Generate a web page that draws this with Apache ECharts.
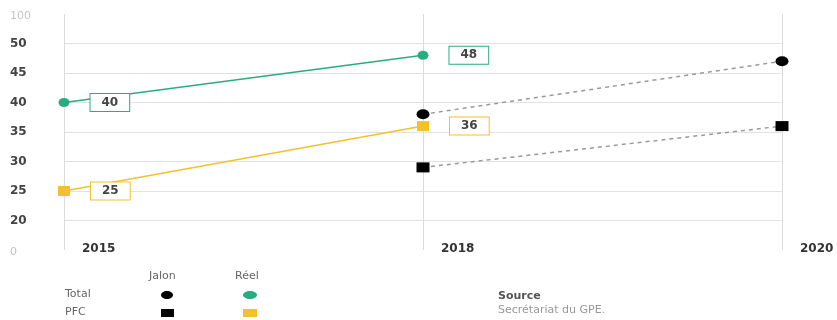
<!DOCTYPE html>
<html>
<head>
<meta charset="utf-8">
<script src="https://cdn.jsdelivr.net/npm/echarts@6/dist/echarts.min.js"></script>
<style>
  html, body { margin: 0; padding: 0; background: #fff; }
  #chart { width: 837px; height: 320px; }
</style>
</head>
<body>
<div id="chart"></div>
<script>
// Years on the horizontal axis
const years = ['2015', '2018', '2020'];

// Achieved values (Réel)
const totalReel = [40, 48, null];
const pfcReel = [25, 36, null];

// Milestones (Jalon)
const totalJalon = [null, 38, 47];
const pfcJalon = [null, 29, 36];

// Broken scale: the bottom and top ticks stand for 0 and 100
const axisBreakLabels = { 15: '0', 55: '100' };

const GREEN = '#2aac82';
const YELLOW = '#f3c12b';
const FONT = '"DejaVu Sans", sans-serif';

const boxLabel = (color) => ({
  show: true,
  position: 'right',
  distance: 21,
  backgroundColor: '#fff',
  borderColor: color,
  borderWidth: 1,
  padding: [3, 11, 2, 11],
  color: '#444',
  fontWeight: 'bold',
  fontSize: 12,
  fontFamily: FONT
});

const chart = echarts.init(document.getElementById('chart'), null, { renderer: 'canvas' });

const gridGray = '#e2e2e2';

chart.setOption({
  animation: false,
  backgroundColor: '#fff',
  textStyle: { fontFamily: FONT },
  grid: { left: 64, right: 55, top: 14, bottom: 70, containLabel: false },
  xAxis: {
    type: 'category',
    data: years,
    boundaryGap: false,
    axisLine: { show: false },
    axisTick: { show: false },
    axisLabel: {
      align: 'left',
      verticalAlign: 'middle',
      margin: -1,
      padding: [0, 0, 0, 18],
      color: '#333',
      fontWeight: 'bold',
      fontSize: 12,
      fontFamily: FONT
    },
    splitLine: {
      show: true,
      lineStyle: { color: ['#dcdcdc', '#c6e6da', '#dcdcdc'], width: 1 }
    }
  },
  yAxis: {
    type: 'value',
    min: 15,
    max: 55,
    interval: 5,
    axisLine: { show: false },
    axisTick: { show: false },
    axisLabel: {
      align: 'left',
      margin: 54,
      fontSize: 12,
      fontFamily: FONT,
      formatter: (v) => axisBreakLabels[v] !== undefined ? '{faint|' + axisBreakLabels[v] + '}' : '{main|' + v + '}',
      rich: {
        main: { color: '#444', fontWeight: 'bold', fontSize: 12, fontFamily: FONT },
        faint: { color: '#c4c4c4', fontSize: 11, fontFamily: FONT, padding: [4, 0, 0, 0] }
      }
    },
    splitLine: {
      show: true,
      lineStyle: {
        color: ['transparent', gridGray, gridGray, gridGray, gridGray, gridGray, gridGray, gridGray, 'transparent'],
        width: 1
      }
    }
  },
  series: [
    {
      name: 'Total Jalon',
      type: 'line',
      data: totalJalon,
      symbol: 'circle',
      symbolSize: [13, 10],
      itemStyle: { color: '#000' },
      lineStyle: { color: '#9a9a9a', width: 1.5, type: [4, 4] },
      z: 2
    },
    {
      name: 'PFC Jalon',
      type: 'line',
      data: pfcJalon,
      symbol: 'rect',
      symbolSize: [13, 10],
      itemStyle: { color: '#000' },
      lineStyle: { color: '#9a9a9a', width: 1.5, type: [4, 4] },
      z: 2
    },
    {
      name: 'Total Réel',
      type: 'line',
      data: totalReel,
      symbol: 'circle',
      symbolSize: [11, 9],
      itemStyle: { color: GREEN },
      lineStyle: { color: GREEN, width: 1.5 },
      label: boxLabel(GREEN),
      z: 3
    },
    {
      name: 'PFC Réel',
      type: 'line',
      data: pfcReel,
      symbol: 'rect',
      symbolSize: [12, 10],
      itemStyle: { color: YELLOW },
      lineStyle: { color: YELLOW, width: 1.5 },
      label: boxLabel(YELLOW),
      z: 3
    }
  ],
  graphic: [
    // legend table
    { type: 'text', left: 149, top: 271, style: { text: 'Jalon', fill: '#666', font: '11px ' + FONT } },
    { type: 'text', left: 235, top: 271, style: { text: 'Réel', fill: '#666', font: '11px ' + FONT } },
    { type: 'text', left: 65, top: 289, style: { text: 'Total', fill: '#666', font: '11px ' + FONT } },
    { type: 'text', left: 65, top: 307, style: { text: 'PFC', fill: '#666', font: '11px ' + FONT } },
    { type: 'ellipse', shape: { cx: 167, cy: 295, rx: 6, ry: 4 }, style: { fill: '#000' } },
    { type: 'ellipse', shape: { cx: 250, cy: 295, rx: 7, ry: 4 }, style: { fill: GREEN } },
    { type: 'rect', shape: { x: 161, y: 309, width: 13, height: 8 }, style: { fill: '#000' } },
    { type: 'rect', shape: { x: 243, y: 309, width: 14, height: 8 }, style: { fill: YELLOW } },
    // source note
    { type: 'text', left: 498, top: 291, style: { text: 'Source', fill: '#555', font: 'bold 11px ' + FONT } },
    { type: 'text', left: 498, top: 305, style: { text: 'Secrétariat du GPE.', fill: '#999', font: '11px ' + FONT } }
  ]
});
</script>
</body>
</html>
